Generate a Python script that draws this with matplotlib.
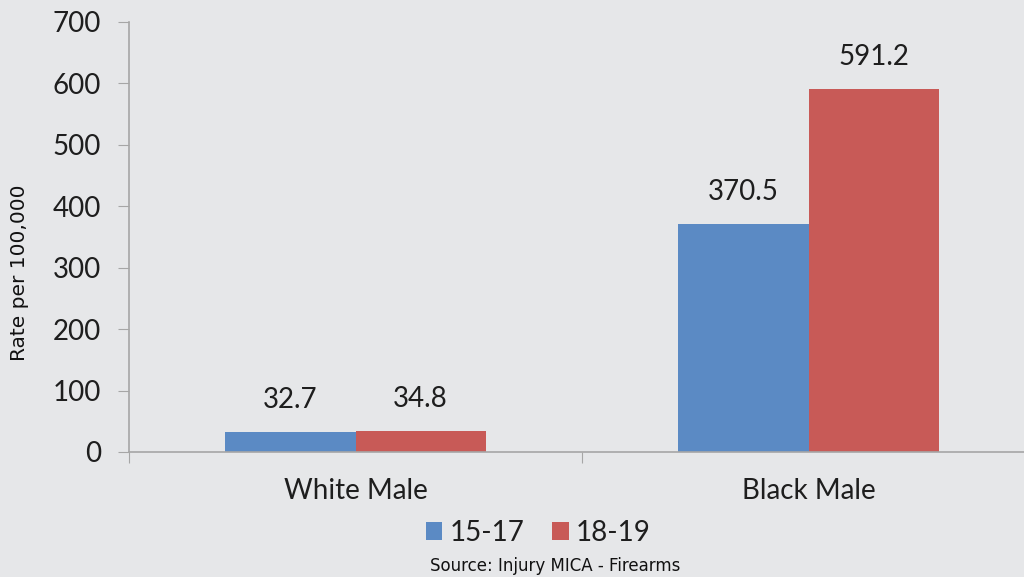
import matplotlib
matplotlib.use("Agg")
import matplotlib.pyplot as plt
import numpy as np

categories = ["White Male", "Black Male"]
series_names = ["15-17", "18-19"]
values_15_17 = [32.7, 370.5]
values_18_19 = [34.8, 591.2]
yticks = [0, 100, 200, 300, 400, 500, 600, 700]

bg = "#E6E7E9"
blue = "#5B8AC4"
red = "#C85A57"
axis_col = "#A6A6A6"
txt = "#1E1E1E"
font = ["Lato", "DejaVu Sans"]
fs = 20

fig = plt.figure(figsize=(10.24, 5.77), dpi=100, facecolor=bg)
ax = fig.add_axes([129/1024, 1 - 452/577, 906/1024, 430/577], facecolor=bg)

x = np.arange(len(categories))
w = 0.287
b1 = ax.bar(x - w/2, values_15_17, w, color=blue, label=series_names[0])
b2 = ax.bar(x + w/2, values_18_19, w, color=red, label=series_names[1])

for bars, vals in ((b1, values_15_17), (b2, values_18_19)):
    for rect, v in zip(bars, vals):
        ax.annotate(f"{v:.1f}", (rect.get_x() + rect.get_width()/2, v),
                    xytext=(0, 23), textcoords="offset points",
                    ha="center", va="center", fontsize=fs, color=txt, family=font)

ax.set_ylim(0, 700)
ax.set_xlim(-0.5, 1.5)
ax.set_yticks(yticks)
ax.set_yticklabels([str(t) for t in yticks], fontsize=fs, color=txt, family=font)
ax.set_xticks([-0.5, 0.5, 1.5])
ax.set_xticklabels([])
ax.set_xticks(x, minor=True)
ax.set_xticklabels(categories, minor=True, fontsize=fs, color=txt, family=font)
ax.tick_params(axis="x", which="minor", length=0, pad=19)
ax.tick_params(axis="x", which="major", length=8, color=axis_col, direction="out")
ax.tick_params(axis="y", length=8, color=axis_col, direction="out", pad=12)

for s in ("top", "right"):
    ax.spines[s].set_visible(False)
for s in ("left", "bottom"):
    ax.spines[s].set_color(axis_col)
    ax.spines[s].set_linewidth(1.2)

fig.text(20/1024, 1 - 273/577, "Rate per 100,000", rotation=90, ha="center", va="center",
         fontsize=14.5, color="#111111", family="DejaVu Sans")

leg = fig.legend(handles=[b1, b2], labels=series_names, loc="center",
                 bbox_to_anchor=(538/1024, 1 - 533/577), ncol=2, frameon=False,
                 prop={"family": font, "size": fs}, handlelength=0.6, handleheight=0.6,
                 handletextpad=0.25, columnspacing=1.0)
for t in leg.get_texts():
    t.set_color(txt)

fig.text(555/1024, 1 - 566/577, "Source: Injury MICA - Firearms", ha="center", va="center",
         fontsize=12, color="#111111", family="DejaVu Sans")

fig.savefig("out.png", dpi=100, facecolor=bg)
